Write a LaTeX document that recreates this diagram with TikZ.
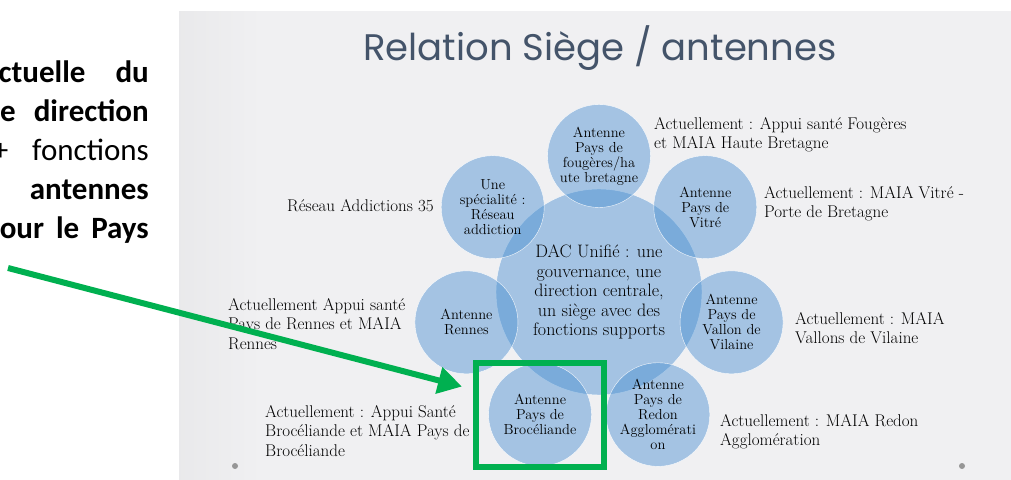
\documentclass[tikz,border=0pt]{standalone}
\usepackage{fontspec}
\newfontfamily\titlefont{Poppins}
\newfontfamily\notefont{Carlito}
\usetikzlibrary{arrows.meta}

\definecolor{bulle}{RGB}{72,142,209}
\definecolor{titre}{RGB}{68,84,106}
\definecolor{vert}{RGB}{0,176,80}
\definecolor{fond}{RGB}{240,240,242}
\definecolor{bord}{RGB}{200,200,200}
\definecolor{point}{RGB}{150,150,150}
\pgfdeclarehorizontalshading{diapo}{100bp}{color(0bp)=(bord); color(30bp)=(fond); color(75bp)=(fond); color(100bp)=(bord)}

\begin{document}
\begin{tikzpicture}[x=1pt,y=1pt,
                    antenne/.style={circle,minimum size=103pt,inner sep=0pt,
                      fill=bulle,fill opacity=0.45,text opacity=1,
                      draw=white,draw opacity=0.9,thin,align=center,
                      font=\fontsize{14.5}{15}\selectfont},
                    siege/.style={antenne,minimum size=206pt,
                      font=\fontsize{18}{19.5}\selectfont},
                    remarque/.style={anchor=north west,align=left,inner sep=0pt,
                      font=\fontsize{17}{19.5}\selectfont},
                    ligne/.style={anchor=base east,inner sep=0pt,
                      font=\notefont\fontsize{31}{39.5}\selectfont}]
  \useasboundingbox (0,0) rectangle (1011,479);
  \fill[white] (0,0) rectangle (1011,479);
  \shade[shading=diapo] (179,0) rectangle (1011,467);

  % texte coupe a gauche
  \node[ligne] (texteA) at (149,396) {\textbf{ctuelle\hspace{30pt}du}};
  \node[ligne] (texteB) at (149,357) {\textbf{e\hspace{18pt}direction}};
  \node[ligne] (texteC) at (149,318) {+\hspace{24pt}fonctions};
  \node[ligne] (texteD) at (149,279) {\textbf{antennes}};
  \node[ligne] (texteE) at (149,240) {\textbf{our\hspace{12pt}le\hspace{12pt}Pays}};

  \node[font=\titlefont\fontsize{37}{42}\selectfont,text=titre] (titre) at (600,431)
       {Relation Siège / antennes};

  \node[siege]   (dac)         at (599,187)                  {DAC Unifié : une\\gouvernance, une\\direction centrale,\\un siège avec des\\fonctions supports};
  \node[antenne] (fougeres)    at ([shift={(90:136)}]dac)    {Antenne\\Pays de\\fougères/ha\\ute bretagne};
  \node[antenne] (vitre)       at ([shift={(38.6:136)}]dac)  {Antenne\\Pays de\\Vitré};
  \node[antenne] (vallon)      at ([shift={(-12.9:136)}]dac) {Antenne\\Pays de\\Vallon de\\Vilaine};
  \node[antenne] (redon)       at ([shift={(-64.3:136)}]dac) {Antenne\\Pays de\\Redon\\Agglomérati\\on};
  \node[antenne] (broceliande) at ([shift={(-115.7:136)}]dac) {Antenne\\Pays de\\Brocéliande};
  \node[antenne] (rennes)      at ([shift={(-167.1:136)}]dac) {Antenne\\Rennes};
  \node[antenne] (addiction)   at ([shift={(141.4:136)}]dac) {Une\\spécialité :\\Réseau\\addiction};

  \node[remarque] (noteFougeres) at (654,362) {Actuellement : Appui santé Fougères\\et MAIA Haute Bretagne};
  \node[remarque] (noteAddiction) at (287,280) {Réseau Addictions 35};
  \node[remarque] (noteVitre) at (764,293) {Actuellement : MAIA Vitré -\\Porte de Bretagne};
  \node[remarque] (noteRennes) at (228,181) {Actuellement Appui santé\\Pays de Rennes et MAIA\\Rennes};
  \node[remarque] (noteVallon) at (795,167) {Actuellement : MAIA\\Vallons de Vilaine};
  \node[remarque] (noteBroceliande) at (265,74) {Actuellement : Appui Santé\\Brocéliande et MAIA Pays de\\Brocéliande};
  \node[remarque] (noteRedon) at (720,65) {Actuellement : MAIA Redon\\Agglomération};

  \fill[point] (235,13) circle (3);
  \fill[point] (962,13) circle (3);

  \node[draw=vert,line width=6pt,minimum width=128pt,minimum height=104pt] (cadre) at (broceliande) {};
  \coordinate (depart) at (8,211);
  \draw[vert,line width=6pt,-{Triangle[length=24pt,width=26pt]}]
       (depart) -- ([xshift=-11pt,yshift=28pt]cadre.west);
\end{tikzpicture}
\end{document}
